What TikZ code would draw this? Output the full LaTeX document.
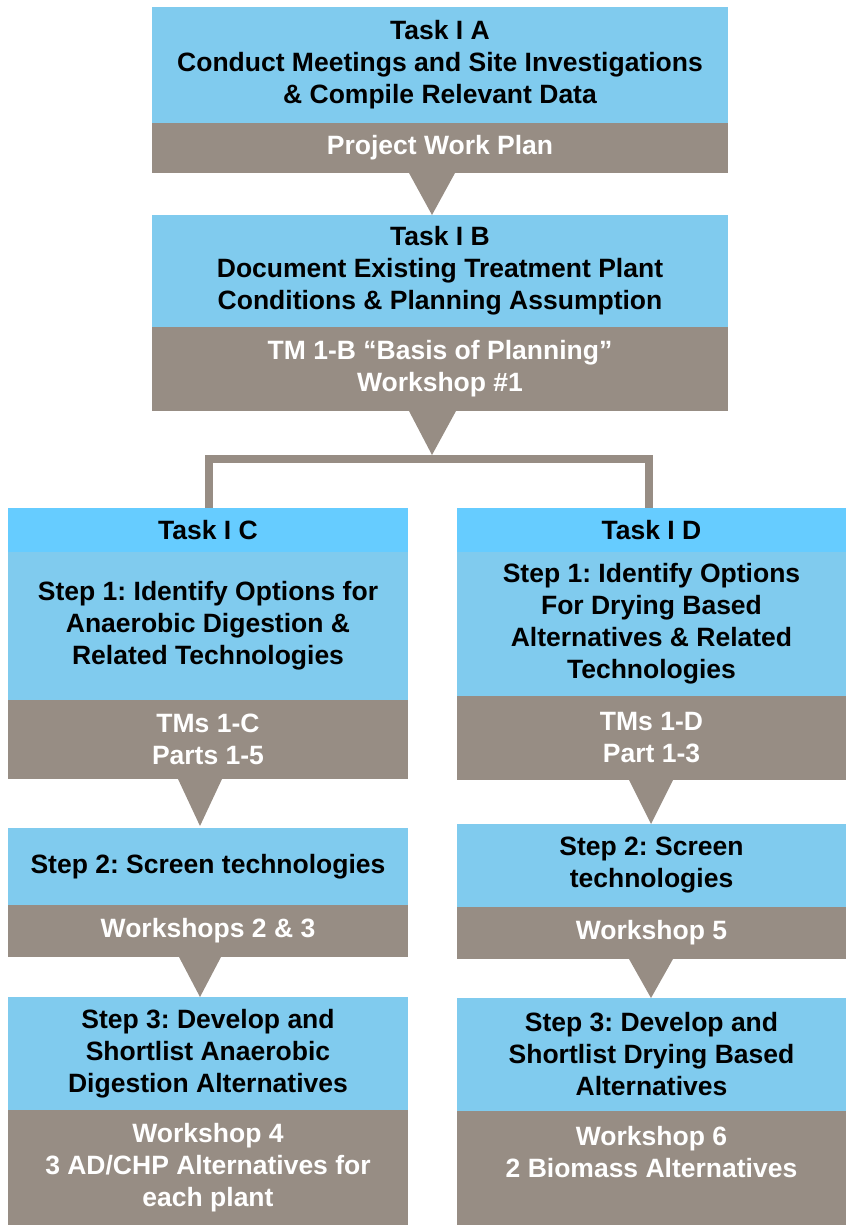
\documentclass[tikz,border=0pt]{standalone}
\usepackage{fontspec}
\setmainfont{Liberation Sans}
\frenchspacing
\usetikzlibrary{positioning}
\definecolor{skyblue}{RGB}{128,203,238}
\definecolor{headblue}{RGB}{102,204,255}
\definecolor{taupe}{RGB}{151,141,132}

\begin{document}
\begin{tikzpicture}[x=1pt,y=-1pt,
    panel/.style={anchor=north west, inner sep=0pt, outer sep=0pt, align=center,
      font=\fontsize{26.5}{32}\selectfont\bfseries},
    taskbox/.style={panel, fill=skyblue, text=black},
    headbox/.style={panel, fill=headblue, text=black},
    outbox/.style={panel, fill=taupe, text=white},
    pointer/.style={fill=taupe},
    bracket/.style={draw=taupe, line width=8pt, line join=miter}]
    \useasboundingbox (0,0) rectangle (846,1225);

    % task I A
    \node[taskbox, minimum width=576, minimum height=116] (taskA) at (152,7)
        {Task I A\\Conduct Meetings and Site Investigations\\\& Compile Relevant Data};
    \node[outbox, minimum width=576, minimum height=50, below=0pt of taskA] (planA)
        {Project Work Plan};

    % task I B
    \node[taskbox, minimum width=576, minimum height=112, below=42pt of planA] (taskB)
        {Task I B\\Document Existing Treatment Plant\\Conditions \& Planning Assumption};
    \node[outbox, minimum width=576, minimum height=84, below=0pt of taskB] (planB)
        {TM 1-B “Basis of Planning”\\Workshop \#1};

    % task I C
    \node[headbox, minimum width=400, minimum height=44] (headC) at (8,508) {Task I C};
    \node[taskbox, minimum width=400, minimum height=148, below=0pt of headC] (stepCa)
        {Step 1: Identify Options for\\Anaerobic Digestion \&\\Related Technologies};
    \node[outbox, minimum width=400, minimum height=79, below=0pt of stepCa] (outCa)
        {TMs 1-C\\Parts 1-5};
    \node[taskbox, minimum width=400, minimum height=77, below=49pt of outCa] (stepCb)
        {Step 2: Screen technologies};
    \node[outbox, minimum width=400, minimum height=52, below=0pt of stepCb] (outCb)
        {Workshops 2 \& 3};
    \node[taskbox, minimum width=400, minimum height=113, below=40pt of outCb] (stepCc)
        {Step 3: Develop and\\Shortlist Anaerobic\\Digestion Alternatives};
    \node[outbox, minimum width=400, minimum height=115, below=0pt of stepCc] (outCc)
        {Workshop 4\\3 AD/CHP Alternatives for\\each plant};

    % task I D
    \node[headbox, minimum width=389, minimum height=44] (headD) at (457,508) {Task I D};
    \node[taskbox, minimum width=389, minimum height=144, below=0pt of headD] (stepDa)
        {Step 1: Identify Options\\For Drying Based\\Alternatives \& Related\\Technologies};
    \node[outbox, minimum width=389, minimum height=84, below=0pt of stepDa] (outDa)
        {TMs 1-D\\Part 1-3};
    \node[taskbox, minimum width=389, minimum height=83, below=44pt of outDa] (stepDb)
        {Step 2: Screen\\technologies};
    \node[outbox, minimum width=389, minimum height=52, below=0pt of stepDb] (outDb)
        {Workshop 5};
    \node[taskbox, minimum width=389, minimum height=113, below=39pt of outDb] (stepDc)
        {Step 3: Develop and\\Shortlist Drying Based\\Alternatives};
    \node[outbox, minimum width=389, minimum height=114, below=0pt of stepDc] (outDc)
        {Workshop 6\\2 Biomass Alternatives\\\mbox{}};

    % pointers
    \coordinate (tipA) at (432,0);
    \coordinate (tipC) at (200,0);
    \coordinate (tipD) at (651,0);
    \fill[pointer] (tipA |- planA.south) ++(-23,0) -- ++(46,0) -- (tipA |- taskB.north) -- cycle;
    \fill[pointer] (tipA |- planB.south) ++(-23,0) -- ++(47,0) -- (432,455) -- cycle;
    \fill[pointer] (tipC |- outCa.south) ++(-22,0) -- ++(44,0) -- (200,826) -- cycle;
    \fill[pointer] (tipC |- outCb.south) ++(-21,0) -- ++(42,0) -- (tipC |- stepCc.north) -- cycle;
    \fill[pointer] (tipD |- outDa.south) ++(-22,0) -- ++(44,0) -- (tipD |- stepDb.north) -- cycle;
    \fill[pointer] (tipD |- outDb.south) ++(-22,0) -- ++(44,0) -- (tipD |- stepDc.north) -- cycle;

    % fork
    \coordinate (forkL) at (209,459);
    \coordinate (forkR) at (649,459);
    \draw[bracket] (forkL |- headC.north) -- (forkL) -- (forkR) -- (forkR |- headD.north);
\end{tikzpicture}
\end{document}
